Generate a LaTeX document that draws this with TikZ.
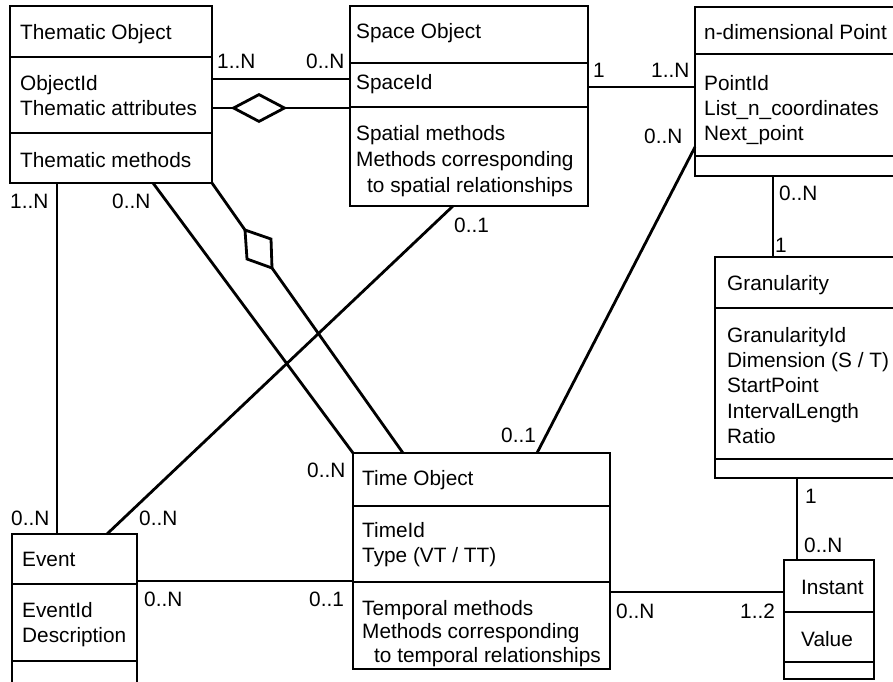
\documentclass[tikz,border=0pt]{standalone}
\usepackage{fontspec}
\setmainfont{Liberation Sans}
\usetikzlibrary{shapes.geometric}

\tikzset{
  classbox/.style={draw, rectangle, line width=2.8pt, anchor=north west, inner sep=0pt, outer sep=0pt},
  classline/.style={line width=2.8pt},
  link/.style={line width=2.8pt},
  classtext/.style={anchor=north west, inner sep=0pt, align=left, font=\fontsize{20.8}{25}\selectfont},
  mult/.style={anchor=base west, inner sep=0pt, font=\fontsize{20.8}{24}\selectfont},
  aggr/.style={draw, diamond, line width=2.8pt, fill=white, inner sep=0pt, minimum width=52pt, minimum height=28pt},
}

\begin{document}
\begin{tikzpicture}[x=1pt,y=1pt,yscale=-1,xscale=1]
		\useasboundingbox (0,0) rectangle (893,681);

		% The class boxes
		\node[classbox, minimum width=202pt, minimum height=177pt] (thematic) at (10,6) {};
		\node[classbox, minimum width=238pt, minimum height=200pt] (space) at (350,6) {};
		\node[classbox, minimum width=210pt, minimum height=169pt] (point) at (695,7) {};
		\node[classbox, minimum width=190pt, minimum height=221pt] (gran) at (715,257) {};
		\node[classbox, minimum width=90pt, minimum height=119pt] (instant) at (784,560) {};
		\node[classbox, minimum width=257pt, minimum height=216pt] (timeobj) at (353,453) {};
		\node[classbox, minimum width=125pt, minimum height=160pt] (event) at (12,534) {};

		% The compartment lines of each box
		\draw[classline] (thematic.west |- 0,57) -- (thematic.east |- 0,57);
		\draw[classline] (thematic.west |- 0,133) -- (thematic.east |- 0,133);
		\draw[classline] (space.west |- 0,63) -- (space.east |- 0,63);
		\draw[classline] (space.west |- 0,107) -- (space.east |- 0,107);
		\draw[classline] (point.west |- 0,54) -- (point.east |- 0,54);
		\draw[classline] (point.west |- 0,156) -- (point.east |- 0,156);
		\draw[classline] (gran.west |- 0,308) -- (gran.east |- 0,308);
		\draw[classline] (gran.west |- 0,459) -- (gran.east |- 0,459);
		\draw[classline] (instant.west |- 0,612) -- (instant.east |- 0,612);
		\draw[classline] (instant.west |- 0,662) -- (instant.east |- 0,662);
		\draw[classline] (timeobj.west |- 0,506) -- (timeobj.east |- 0,506);
		\draw[classline] (timeobj.west |- 0,582) -- (timeobj.east |- 0,582);
		\draw[classline] (event.west |- 0,584) -- (event.east |- 0,584);
		\draw[classline] (event.west |- 0,661) -- (event.east |- 0,661);

		% Texts of Thematic Object
		\node[classtext] (themhead) at (20,24.1) {Thematic Object};
		\node[classtext] (themattr) at (20,75.1) {ObjectId\\Thematic attributes};
		\node[classtext] (themmeth) at (20,152.1) {Thematic methods};

		% Texts of Space Object
		\node[classtext] (spacehead) at (356,23.1) {Space Object};
		\node[classtext] (spaceattr) at (356,74.1) {SpaceId};
		\node[classtext, font=\fontsize{20.8}{26}\selectfont] (spacemeth) at (356,125.1) {Spatial methods\\Methods corresponding\\\hspace*{11pt}to spatial relationships};

		% Texts of n-dimensional Point
		\node[classtext] (pointhead) at (704,24.1) {n-dimensional Point};
		\node[classtext] (pointattr) at (704,75.1) {PointId\\List\_n\_coordinates\\Next\_point};

		% Texts of Granularity
		\node[classtext] (granhead) at (727,275.1) {Granularity};
		\node[classtext, font=\fontsize{20.8}{25.3}\selectfont] (granattr) at (727,327.1) {GranularityId\\Dimension (S / T)\\StartPoint\\IntervalLength\\Ratio};

		% Texts of Instant
		\node[classtext] (insthead) at (801,580.1) {Instant};
		\node[classtext] (instattr) at (801,631.1) {Value};

		% Texts of Time Object
		\node[classtext] (timehead) at (362,470.1) {Time Object};
		\node[classtext] (timeattr) at (362,522.1) {TimeId\\Type (VT / TT)};
		\node[classtext, font=\fontsize{20.8}{23.5}\selectfont] (timemeth) at (362,600.1) {Temporal methods\\Methods corresponding\\\hspace*{12pt}to temporal relationships};

		% Texts of Event
		\node[classtext] (eventhead) at (22,552.1) {Event};
		\node[classtext] (eventattr) at (22,602.1) {EventId\\Description};

		% Associations between the boxes
		\draw[link] (thematic.east |- 0,79) -- (space.west |- 0,79);
		\draw[link] (space.east |- 0,87) -- (point.west |- 0,87);
		\draw[link] (thematic.south -| 57,0) -- (event.north -| 57,0);
		\draw[link] (thematic.south -| 153,0) -- (timeobj.north west);
		\draw[link] (event.north -| 107,0) -- (space.south -| 453,0);
		\draw[link] (timeobj.north -| 537,0) -- (point.west |- 0,147);
		\draw[link] (point.south -| 773,0) -- (gran.north -| 773,0);
		\draw[link] (gran.south -| 797,0) -- (instant.north -| 797,0);
		\draw[link] (event.east |- 0,581) -- (timeobj.west |- 0,581);
		\draw[link] (timeobj.east |- 0,592) -- (instant.west |- 0,592);

		% Aggregation Thematic Object - Space Object
		\node[aggr] (agg1) at (259,108) {};
		\draw[link] (thematic.east |- agg1) -- (agg1.west);
		\draw[link] (agg1.east) -- (space.west |- agg1);

		% Aggregation Thematic Object - Time Object
		\coordinate (agg2n) at (245,230);
		\coordinate (agg2e) at (271,239);
		\coordinate (agg2s) at (272,268);
		\coordinate (agg2w) at (247,259);
		\draw[link] (thematic.south east) -- (agg2n);
		\draw[link, fill=white] (agg2n) -- (agg2e) -- (agg2s) -- (agg2w) -- cycle;
		\draw[link] (agg2s) -- (timeobj.north -| 403,0);

		% Multiplicities
		\node[mult] (m1) at (217,68) {1..N};
		\node[mult] (m2) at (306,68) {0..N};
		\node[mult] (m3) at (593,77) {1};
		\node[mult] (m4) at (651,77) {1..N};
		\node[mult] (m5) at (644,143) {0..N};
		\node[mult] (m6) at (779,200) {0..N};
		\node[mult] (m7) at (775,252) {1};
		\node[mult] (m8) at (454,232) {0..1};
		\node[mult] (m9) at (10,208) {1..N};
		\node[mult] (m10) at (112,208) {0..N};
		\node[mult] (m11) at (11,525) {0..N};
		\node[mult] (m12) at (139,525) {0..N};
		\node[mult] (m13) at (307,477) {0..N};
		\node[mult] (m14) at (501,442) {0..1};
		\node[mult] (m15) at (144,606) {0..N};
		\node[mult] (m16) at (309,606) {0..1};
		\node[mult] (m17) at (616,618) {0..N};
		\node[mult] (m18) at (740,618) {1..2};
		\node[mult] (m19) at (805,503) {1};
		\node[mult] (m20) at (804,552) {0..N};
	\end{tikzpicture}
\end{document}
